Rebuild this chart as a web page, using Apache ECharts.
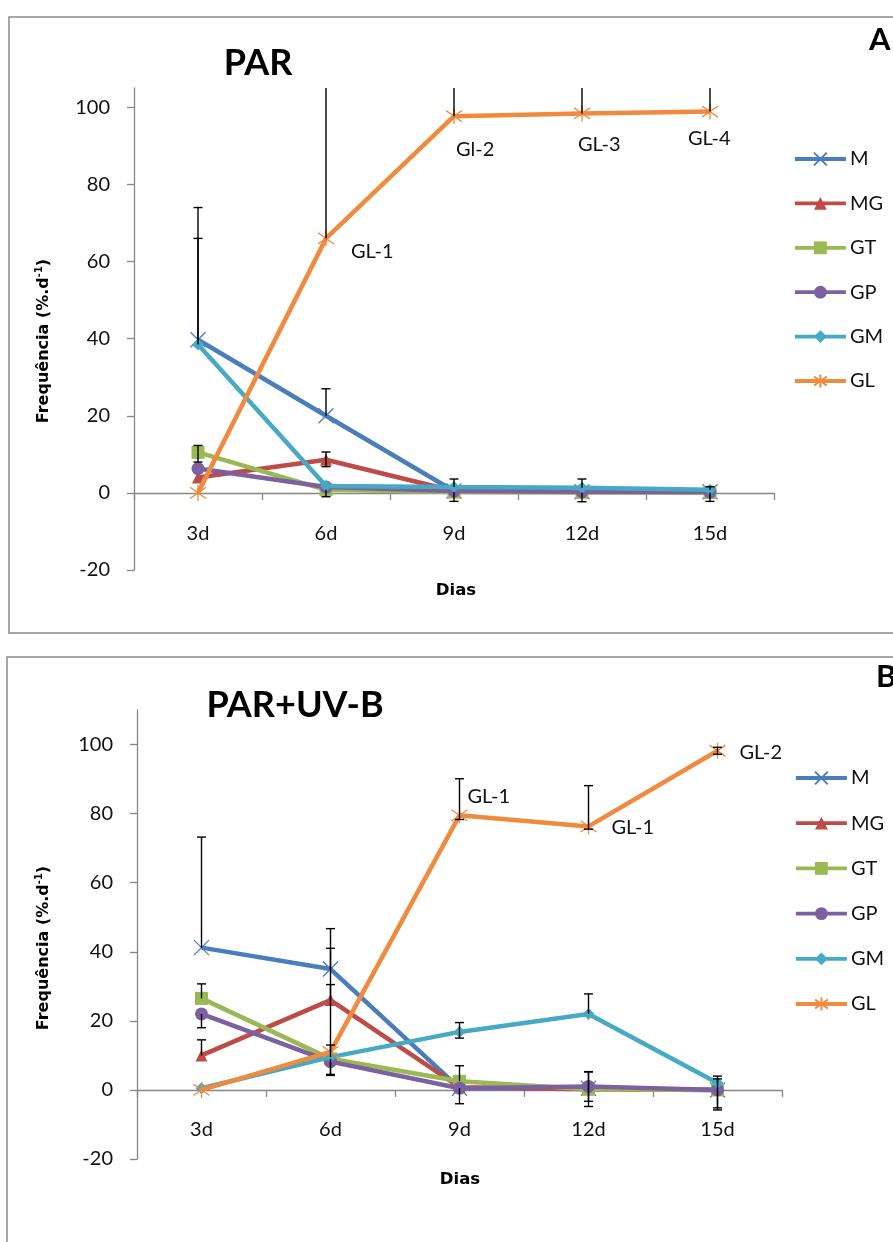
<!DOCTYPE html>
<html><head><meta charset="utf-8">
<script src="https://cdn.jsdelivr.net/npm/echarts@6/dist/echarts.min.js"></script>
<style>html,body{margin:0;padding:0;background:#fff}#c{width:893px;height:1242px}</style>
</head><body><div id="c"></div><script>
// ---------- data ----------
const categories = ['3d', '6d', '9d', '12d', '15d'];
const seriesNames = ['M', 'MG', 'GT', 'GP', 'GM', 'GL'];
const yTicks = [-20, 0, 20, 40, 60, 80, 100];

// Panel A: PAR
const parM  = [39.7, 20.0, 0.5, 0.3, 0.3];
const parMG = [4.0, 8.6, 0.5, 0.3, 0.2];
const parGT = [10.5, 0.8, 0.2, 0.1, 0.1];
const parGP = [6.3, 1.5, 0.5, 0.3, 0.2];
const parGM = [38.5, 1.8, 1.5, 1.3, 0.8];
const parGL = [0.0, 66.0, 97.7, 98.4, 98.9];
// error bars [plus, minus]
const parErrM  = [[34.3, 0], [7, 0], [0, 0], [0, 0], [0, 0]];
const parErrMG = [[0, 0], [2, 1.8], [0, 0], [0, 0], [0, 0]];
const parErrGT = [[1.8, 2.5], [0, 1.8], [0, 2.4], [0, 2.4], [0, 2.3]];
const parErrGP = [[0, 0], [0, 0], [0, 0], [0, 0], [0, 0]];
const parErrGM = [[27.5, 0], [0, 0], [2.1, 0], [2.3, 0], [0.8, 0]];
const parErrGL = [[0, 0], [45, 0], [12, 0], [12, 0], [12, 0]];
const parGLLabels = ['', 'GL-1', 'Gl-2', 'GL-3', 'GL-4'];

// Panel B: PAR+UV-B
const uvM  = [41.2, 35.0, 0.5, 0.5, 0.0];
const uvMG = [10.0, 26.0, 0.8, 0.2, 0.0];
const uvGT = [26.5, 9.0, 2.5, 0.2, 0.0];
const uvGP = [22.0, 8.2, 0.5, 1.0, 0.0];
const uvGM = [0.5, 9.5, 16.8, 22.0, 2.0];
const uvGL = [0.0, 11.0, 79.5, 76.3, 98.2];
const uvErrM  = [[32, 0], [11.7, 0], [0, 0], [0, 0], [0, 0]];
const uvErrMG = [[4.5, 0], [15, 0], [0, 0], [0, 0], [0, 0]];
const uvErrGT = [[4.2, 0], [0, 4.8], [4.5, 0], [5, 5], [0, 5.8]];
const uvErrGP = [[0, 4], [0, 3.7], [0, 4.5], [4.3, 4.3], [3.2, 5.2]];
const uvErrGM = [[0, 0], [21, 0], [2.7, 1.8], [5.8, 0], [2, 0]];
const uvErrGL = [[0, 0], [2, 0], [10.6, 1.2], [11.8, 0.8], [1, 1]];
const uvGLLabels = ['', '', 'GL-1', 'GL-1', 'GL-2'];

// ---------- styles ----------
const FONT = 'Lato';
const BFONT = 'DejaVu Sans';
const colors = {M: '#4A7EBB', MG: '#BE4B48', GT: '#98B954', GP: '#7D60A0', GM: '#46AAC5', GL: '#F08A3E'};
const symbols = {
  M: 'path://M0 0L10 10M10 0L0 10',
  MG: 'triangle', GT: 'rect', GP: 'circle', GM: 'diamond',
  GL: 'path://M0 1.5L10 8.5M10 1.5L0 8.5M5 0L5 10'
};
const symbolSizes = {M: 15, MG: 12, GT: 13, GP: 13, GM: 12, GL: 16};
const labelOffsetsA = [[0, 0], [25, 13], [2, 33], [-4, 31], [-22, 27]];
const labelOffsetsB = [[0, 0], [0, 0], [8, -19], [23, 1], [22, 2]];

const panelA = {vals: [parM, parMG, parGT, parGP, parGM, parGL], errs: [parErrM, parErrMG, parErrGT, parErrGP, parErrGM, parErrGL], labels: parGLLabels, offsets: labelOffsetsA};
const panelB = {vals: [uvM, uvMG, uvGT, uvGP, uvGM, uvGL], errs: [uvErrM, uvErrMG, uvErrGT, uvErrGP, uvErrGM, uvErrGL], labels: uvGLLabels, offsets: labelOffsetsB};

function errRender(params, api) {
  const i = api.value(0), v = api.value(1), up = api.value(2), dn = api.value(3);
  const cs = params.coordSys;
  const top = cs.y, bot = cs.y + cs.height;
  const c = api.coord([i, v]);
  const x = c[0], hw = 4.5;
  const children = [];
  function seg(val) {
    let p = api.coord([i, val])[1];
    let clipped = false;
    if (p < top) { p = top; clipped = true; }
    if (p > bot) { p = bot; clipped = true; }
    children.push({type: 'line', shape: {x1: x, y1: c[1], x2: x, y2: p}, style: {stroke: '#000', lineWidth: 1.4}});
    if (!clipped) children.push({type: 'line', shape: {x1: x - hw, y1: p, x2: x + hw, y2: p}, style: {stroke: '#000', lineWidth: 1.4}});
  }
  if (up > 0) seg(v + up);
  if (dn > 0) seg(v - dn);
  return {type: 'group', children: children};
}

function labelRender(texts, offsets) {
  return function (params, api) {
    const idx = params.dataIndex;
    if (!texts[idx]) return {type: 'group', children: []};
    const p = api.coord([api.value(0), api.value(1)]);
    return {type: 'text', x: p[0] + offsets[idx][0], y: p[1] + offsets[idx][1],
      style: {text: texts[idx], fill: '#111', font: '20px ' + FONT, align: 'left', verticalAlign: 'middle'}};
  };
}

function buildSeries(panel, gi) {
  const out = [];
  seriesNames.forEach(function (n, k) {
    const isStroke = (n === 'M' || n === 'GL');
    out.push({
      type: 'line', name: n, xAxisIndex: gi, yAxisIndex: gi,
      data: panel.vals[k],
      symbol: symbols[n], symbolSize: symbolSizes[n],
      lineStyle: {color: colors[n], width: 4.5},
      itemStyle: {color: colors[n], borderColor: colors[n], borderWidth: isStroke ? 1.3 : 0},
      emphasis: {disabled: true}, z: 2 + k * 0.01
    });
  });
  const errData = [];
  seriesNames.forEach(function (n, k) {
    panel.vals[k].forEach(function (v, i) {
      const e = panel.errs[k][i];
      if (e[0] > 0 || e[1] > 0) errData.push([i, v, e[0], e[1]]);
    });
  });
  out.push({type: 'custom', name: 'err' + gi, xAxisIndex: gi, yAxisIndex: gi, renderItem: errRender,
    data: errData, encode: {x: 0, y: 1}, z: 5, silent: true});
  out.push({type: 'custom', name: 'lab' + gi, xAxisIndex: gi, yAxisIndex: gi,
    renderItem: labelRender(panel.labels, panel.offsets),
    data: panel.vals[5].map(function (v, i) { return [i, v]; }), encode: {x: 0, y: 1}, z: 6, silent: true});
  return out;
}

const axisColor = '#868686';
function xAxisCfg(gi, margin) {
  return {type: 'category', gridIndex: gi, data: categories, boundaryGap: true,
    axisLine: {onZero: true, lineStyle: {color: axisColor, width: 1.3}},
    axisTick: {show: true, length: 7, lineStyle: {color: axisColor, width: 1.3}},
    axisLabel: {margin: margin, fontSize: 20, fontFamily: FONT, color: '#111'},
    splitLine: {show: false}};
}
function yAxisCfg(gi, max) {
  return {type: 'value', gridIndex: gi, min: -20, max: max, interval: 20,
    axisLine: {show: true, onZero: false, lineStyle: {color: axisColor, width: 1.3}},
    axisTick: {show: true, length: 7, customValues: yTicks, lineStyle: {color: axisColor, width: 1.3}},
    axisLabel: {margin: 24, fontSize: 20, fontFamily: FONT, color: '#111', customValues: yTicks},
    splitLine: {show: false}};
}
function legendCfg(top, gap, left) {
  return {data: seriesNames.map(function (n) { return {name: n, lineStyle: {width: 3.8, color: colors[n]}}; }),
    orient: 'vertical', left: left, top: top, itemWidth: 51, itemHeight: 16,
    itemGap: gap, selectedMode: false, lineStyle: {width: 3.8},
    textStyle: {fontSize: 20, fontFamily: FONT, color: '#111', lineHeight: 20, padding: [0, 0, 0, -1]}};
}

const yName = function (x, y) {
  return {type: 'text', x: x, y: y, rotation: Math.PI / 2,
    style: {text: '{a|Frequência (%.d}{s|-1}{a|)}', align: 'center', verticalAlign: 'middle',
      rich: {a: {fontSize: 16, fontWeight: 'bold', fontFamily: BFONT, fill: '#000'},
             s: {fontSize: 10, fontWeight: 'bold', fontFamily: BFONT, fill: '#000', padding: [0, 0, 9, 0]}}}};
};
function txt(x, y, t, size, bold, fam) {
  return {type: 'text', x: x, y: y, style: {text: t, font: (bold ? 'bold ' : '') + size + 'px ' + (fam || FONT),
    fill: '#000', align: 'center', verticalAlign: 'middle'}};
}

const option = {
  animation: false,
  backgroundColor: '#fff',
  grid: [
    {left: 134, top: 88, width: 640, height: 482},
    {left: 137, top: 710, width: 645, height: 449}
  ],
  xAxis: [xAxisCfg(0, -46), xAxisCfg(1, -39)],
  yAxis: [yAxisCfg(0, 105), yAxisCfg(1, 110)],
  legend: [legendCfg(144, 24.4, 788), legendCfg(763, 25.2, 789)],
  series: buildSeries(panelA, 0).concat(buildSeries(panelB, 1)),
  graphic: [
    {type: 'rect', shape: {x: 9, y: 17, width: 900, height: 616}, style: {fill: 'none', stroke: '#8a8a8a', lineWidth: 1.5}, z: -1},
    {type: 'rect', shape: {x: 7, y: 657, width: 900, height: 620}, style: {fill: 'none', stroke: '#8a8a8a', lineWidth: 1.5}, z: -1},
    txt(258, 63, 'PAR', 36, true),
    txt(295, 705, 'PAR+UV-B', 36, true),
    {type: 'text', x: 869, y: 40, style: {text: 'A', font: 'bold 31px ' + FONT, fill: '#000', align: 'left', verticalAlign: 'middle'}},
    {type: 'text', x: 876, y: 677, style: {text: 'B', font: 'bold 31px ' + FONT, fill: '#000', align: 'left', verticalAlign: 'middle'}},
    txt(456, 591, 'Dias', 16.5, true, BFONT),
    txt(460, 1180, 'Dias', 16.5, true, BFONT),
    yName(44, 341),
    yName(44, 948)
  ]
};
const chart = echarts.init(document.getElementById('c'), null, {renderer: 'canvas'});
chart.setOption(option);
</script></body></html>
